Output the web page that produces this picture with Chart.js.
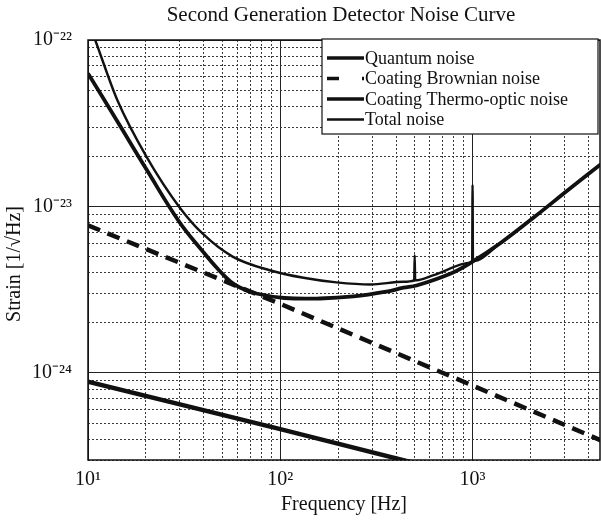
<!DOCTYPE html>
<html>
<head>
<meta charset="utf-8">
<title>Second Generation Detector Noise Curve</title>
<script src="https://cdn.jsdelivr.net/npm/chart.js@4.4.1/dist/chart.umd.min.js"></script>
<style>
  html, body { margin: 0; padding: 0; background: #fff; }
  #noise-chart { display: block; }
</style>
</head>
<body>
<canvas id="noise-chart" width="601" height="521"></canvas>
<script>
// values: frequency in Hz, strain in 1/sqrt(Hz)
const quantumFreq = [10, 14.2, 20.2, 29.8, 39.9, 46.6, 55, 62, 75, 105, 161, 240, 357, 437, 511, 771, 981, 1416, 2110, 3150, 5000];
const quantumNoise = [6.3e-23, 3.25e-23, 1.66e-23, 8.1e-24, 5.3e-24, 4.3e-24, 3.55e-24, 3.25e-24, 3.0e-24, 2.82e-24, 2.8e-24, 2.88e-24, 3.08e-24, 3.25e-24, 3.35e-24, 3.96e-24, 4.6e-24, 6.1e-24, 8.7e-24, 1.26e-23, 1.92e-23];

const brownianFreq = [10, 100, 1000, 5000];
const brownianNoise = [7.7e-24, 2.6e-24, 8.4e-25, 3.8e-25];

const thermoFreq = [10, 100, 1000, 5000];
const thermoNoise = [8.85e-25, 4.6e-25, 2.35e-25, 1.5e-25];

const totalFreq = [10, 10.9, 14.2, 20.2, 30.1, 39.5, 56.5, 88, 132, 196, 294, 437, 497, 500, 503, 628, 981, 995, 1000, 1005, 1416, 2110, 3150, 5000];
const totalNoise = [1.3e-22, 1.0e-22, 4.36e-23, 1.98e-23, 9.8e-24, 6.86e-24, 5.0e-24, 4.14e-24, 3.73e-24, 3.5e-24, 3.4e-24, 3.53e-24, 3.6e-24, 5.1e-24, 3.6e-24, 3.87e-24, 4.6e-24, 4.65e-24, 1.35e-23, 4.7e-24, 6.1e-24, 8.7e-24, 1.26e-23, 1.92e-23];

// tick labels, only the decades get a label
const xDecades = [10, 100, 1000];
const xTickLabels = ['10¹', '10²', '10³'];
const yDecades = [1e-22, 1e-23, 1e-24];
const yTickLabels = ['10⁻²²', '10⁻²³', '10⁻²⁴'];
const gridSteps = [1, 2, 3, 4, 5, 6, 7, 8, 9];

const chartTitle = 'Second Generation Detector Noise Curve';
const yTitle = 'Strain [1/√Hz]';
const serif = "'Liberation Serif', 'Times New Roman', serif";

// all grid positions 1..9 x 10^n between min and max
function gridValues(min, max) {
  const out = [];
  for (let e = Math.floor(Math.log10(min)); e <= Math.ceil(Math.log10(max)); e++) {
    for (const m of gridSteps) {
      const v = m * Math.pow(10, e);
      if (v >= min * 0.999 && v <= max * 1.001) out.push(v);
    }
  }
  return out;
}

function decadeIndex(value, decades) {
  return decades.findIndex(d => Math.abs(value / d - 1) < 1e-6);
}

function toPoints(xs, ys) {
  return xs.map((x, i) => ({ x: x, y: ys[i] }));
}

function gridFor(decades) {
  return {
    color: ctx => (ctx.tick && decadeIndex(ctx.tick.value, decades) >= 0 ? '#222' : '#3a3a3a'),
    lineWidth: 1,
    drawTicks: false,
  };
}

function borderFor(decades) {
  return {
    display: false,
    dash: ctx => (ctx.tick && decadeIndex(ctx.tick.value, decades) < 0 ? [2, 2] : []),
  };
}

// chart title centred over the plot area, y title sits a bit low like in the scan
const plotTitles = {
  id: 'plotTitles',
  afterDraw(chart) {
    const { ctx, chartArea: a } = chart;
    ctx.save();
    ctx.fillStyle = '#111';
    ctx.textAlign = 'center';
    ctx.textBaseline = 'middle';
    ctx.font = '21px ' + serif;
    ctx.fillText(chartTitle, (a.left + a.right) / 2 - 3, 15);
    ctx.translate(15, (a.top + a.bottom) / 2 + 14);
    ctx.rotate(-Math.PI / 2);
    ctx.font = '20px ' + serif;
    ctx.fillText(yTitle, 0, 0);
    ctx.restore();
  },
};

// frame round the plot area
const plotFrame = {
  id: 'plotFrame',
  afterDatasetsDraw(chart) {
    const { ctx, chartArea: a } = chart;
    ctx.save();
    ctx.strokeStyle = '#111';
    ctx.lineWidth = 1.5;
    ctx.strokeRect(a.left, a.top, a.right - a.left, a.bottom - a.top);
    ctx.restore();
  },
};

// boxed legend in the upper right corner, like the original
const boxLegend = {
  id: 'boxLegend',
  afterDraw(chart) {
    const { ctx, chartArea: a } = chart;
    const w = 276, h = 95;
    const x = a.right - w - 2, y = a.top - 1;
    ctx.save();
    ctx.fillStyle = '#fff';
    ctx.fillRect(x, y, w, h);
    ctx.strokeStyle = '#111';
    ctx.lineWidth = 1.2;
    ctx.strokeRect(x, y, w, h);
    chart.data.datasets.forEach((ds, i) => {
      const rowY = y + 19 + i * 20.5;
      ctx.beginPath();
      ctx.setLineDash(ds.borderDash ? [12, 23] : []);
      ctx.lineWidth = Math.min(ds.borderWidth, 3.5);
      ctx.strokeStyle = ds.borderColor;
      ctx.moveTo(x + 5, rowY);
      ctx.lineTo(x + 42, rowY);
      ctx.stroke();
      ctx.setLineDash([]);
      ctx.fillStyle = '#111';
      ctx.font = '18px ' + serif;
      ctx.textBaseline = 'middle';
      ctx.fillText(ds.label, x + 43, rowY + 1);
    });
    ctx.restore();
  },
};

const lineStyle = {
  borderColor: '#111',
  pointRadius: 0,
  fill: false,
  clip: 0,
  tension: 0.4,
};

const config = {
  type: 'line',
  data: {
    datasets: [
      { ...lineStyle, label: 'Quantum noise', data: toPoints(quantumFreq, quantumNoise), borderWidth: 3.8 },
      { ...lineStyle, label: 'Coating Brownian noise', data: toPoints(brownianFreq, brownianNoise), borderWidth: 4.5, borderDash: [13, 8], tension: 0 },
      { ...lineStyle, label: 'Coating Thermo-optic noise', data: toPoints(thermoFreq, thermoNoise), borderWidth: 4.5, tension: 0 },
      // monotone keeps the two narrow resonance spikes from ringing
      { ...lineStyle, label: 'Total noise', data: toPoints(totalFreq, totalNoise), borderWidth: 2.4, cubicInterpolationMode: 'monotone' },
    ],
  },
  options: {
    responsive: false,
    animation: false,
    layout: { padding: { left: 0, right: 1, top: 40, bottom: 0 } },
    plugins: {
      legend: { display: false },
      tooltip: { enabled: false },
      title: { display: false },
    },
    scales: {
      x: {
        type: 'logarithmic',
        min: 10,
        max: 4600,
        afterBuildTicks: scale => { scale.ticks = gridValues(scale.min, scale.max).map(v => ({ value: v })); },
        afterFit: scale => { scale.height = 61; },
        ticks: {
          autoSkip: false,
          maxRotation: 0,
          padding: 8,
          color: '#111',
          font: { family: serif, size: 20 },
          callback: value => {
            const i = decadeIndex(value, xDecades);
            return i >= 0 ? xTickLabels[i] : '';
          },
        },
        grid: gridFor(xDecades),
        border: borderFor(xDecades),
        title: {
          display: true,
          text: 'Frequency [Hz]',
          color: '#111',
          font: { family: serif, size: 20 },
          padding: { top: 0, bottom: 4 },
        },
      },
      y: {
        type: 'logarithmic',
        min: 3e-25,
        max: 1e-22,
        afterBuildTicks: scale => { scale.ticks = gridValues(scale.min, scale.max).map(v => ({ value: v })); },
        afterFit: scale => { scale.width = 88; },
        ticks: {
          autoSkip: false,
          padding: 16,
          color: '#111',
          font: { family: serif, size: 20 },
          callback: value => {
            const i = decadeIndex(value, yDecades);
            return i >= 0 ? yTickLabels[i] : '';
          },
        },
        grid: gridFor(yDecades),
        border: borderFor(yDecades),
      },
    },
  },
  plugins: [plotFrame, boxLegend, plotTitles],
};

const ctx = document.getElementById('noise-chart').getContext('2d');
const noiseChart = new Chart(ctx, config);
</script>
</body>
</html>
